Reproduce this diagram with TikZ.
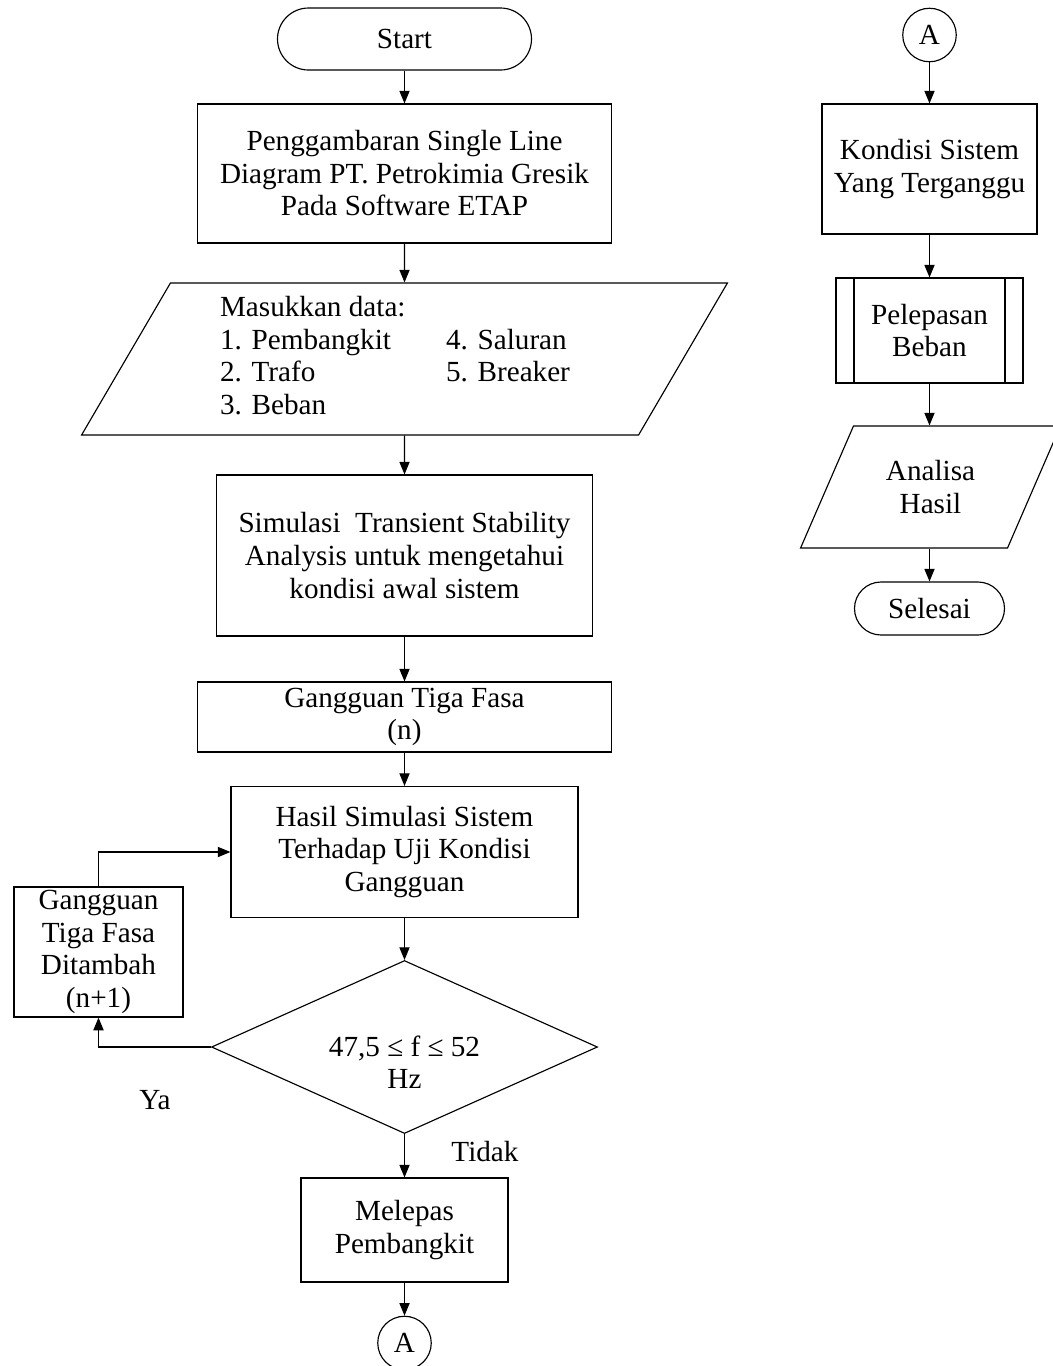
\documentclass[tikz,border=0pt]{standalone}
\usepackage{fontspec}
\setmainfont{Liberation Serif}
\usetikzlibrary{arrows.meta,positioning,shapes.geometric}

\tikzset{
  proc/.style={draw, rectangle, align=center, inner sep=2pt},
  io/.style={draw, trapezium, trapezium stretches=true, align=center, inner sep=2pt},
  subproc/.style={proc, path picture={
      \draw ([xshift=0.36cm]path picture bounding box.north west) -- ([xshift=0.36cm]path picture bounding box.south west);
      \draw ([xshift=-0.36cm]path picture bounding box.north east) -- ([xshift=-0.36cm]path picture bounding box.south east);}},
  conn/.style={draw, circle, inner sep=0pt, minimum size=1.07cm},
  decide/.style={draw, diamond, align=center, inner sep=0pt, shape aspect=2.2},
  flow/.style={-{Triangle[length=7.2pt,width=5.8pt]}},
}

\begin{document}
\begin{tikzpicture}[line width=0.65pt, every node/.style={font=\fontsize{16.6}{18.5}\selectfont}]
      \useasboundingbox (0,0) rectangle (21.06,-27.32);

      % Start
      \node[proc, rounded corners=0.62cm, minimum width=5.08cm, minimum height=1.24cm] (start) at (8.09,-0.78) {Start};

      % Single line diagram
      \node[proc, minimum width=8.28cm, minimum height=2.78cm] (sld) at (8.09,-3.47) {Penggambaran Single Line\\Diagram PT. Petrokimia Gresik\\Pada Software ETAP};

      % Input data
      \node[io, trapezium left angle=62.5, trapezium right angle=117.5, minimum width=12.92cm, minimum height=3.04cm] (data) at (8.09,-7.18) {%
        \begin{tabular}{@{}p{4.52cm}@{}l@{\hspace{0.38cm}}}
          Masukkan data: & \\
          1. Pembangkit & 4. Saluran\\
          2. Trafo & 5. Breaker\\
          3. Beban &
        \end{tabular}};

      % Simulasi awal
      \node[proc, minimum width=7.52cm, minimum height=3.22cm] (simul) at (8.09,-11.11) {Simulasi\ \ Transient Stability\\Analysis untuk mengetahui\\kondisi awal sistem};

      % Gangguan (n)
      \node[proc, minimum width=8.28cm, minimum height=1.40cm] (fasa) at (8.09,-14.34) {Gangguan Tiga Fasa\\(n)};

      % Hasil simulasi
      \node[proc, minimum width=6.94cm, minimum height=2.62cm] (hasil) at (8.09,-17.04) {Hasil Simulasi Sistem\\Terhadap Uji Kondisi\\Gangguan};

      % Cek frekuensi
      \node[decide, minimum width=7.72cm, minimum height=3.46cm] (cek) at (8.09,-20.94) {\mbox{}\\[0.36cm]47,5 ≤ f ≤ 52\\Hz};

      % Gangguan ditambah
      \node[proc, minimum width=3.38cm, minimum height=2.60cm] (tambah) at (1.97,-19.04) {Gangguan\\Tiga Fasa\\Ditambah\\(n+1)};

      % Melepas pembangkit
      \node[proc, minimum width=4.14cm, minimum height=2.08cm] (melepas) at (8.09,-24.60) {Melepas\\Pembangkit};

      % Connector A
      \node[conn] (keA) at (8.09,-26.86) {A};

      % Right column
      \node[conn] (dariA) at (18.59,-0.70) {A};
      \node[proc, minimum width=4.30cm, minimum height=2.60cm] (kondisi) at (18.59,-3.38) {Kondisi Sistem\\Yang Terganggu};
      \node[subproc, minimum width=3.74cm, minimum height=2.10cm] (lepas) at (18.59,-6.61) {Pelepasan\\Beban};
      \node[io, trapezium left angle=61.2, trapezium right angle=118.8, minimum width=5.22cm, minimum height=2.44cm] (analisa) at (18.61,-9.74) {Analisa\\Hasil};
      \node[proc, rounded corners=0.53cm, minimum width=3.00cm, minimum height=1.06cm] (selesai) at (18.59,-12.17) {Selesai};

      % Arrows
      \draw[flow] (start) -- (sld);
      \draw[flow] (sld) -- (data);
      \draw[flow] (data) -- (simul);
      \draw[flow] (simul) -- (fasa);
      \draw[flow] (fasa) -- (hasil);
      \draw[flow] (hasil) -- (cek);
      \draw[flow] (cek) -- (melepas);
      \draw[flow] (melepas) -- (keA);
      \draw[flow] (cek.west) -| (tambah.south);
      \draw[flow] (tambah.north) |- (hasil.west);
      \draw[flow] (dariA) -- (kondisi);
      \draw[flow] (kondisi) -- (lepas);
      \draw[flow] (lepas) -- (analisa.north -| lepas.south);
      \draw[flow] (analisa.south -| selesai.north) -- (selesai);

      % Labels
      \node (ya) at (3.10,-22.00) {Ya};
      \node (tidak) at (9.70,-23.04) {Tidak};
    \end{tikzpicture}
\end{document}
